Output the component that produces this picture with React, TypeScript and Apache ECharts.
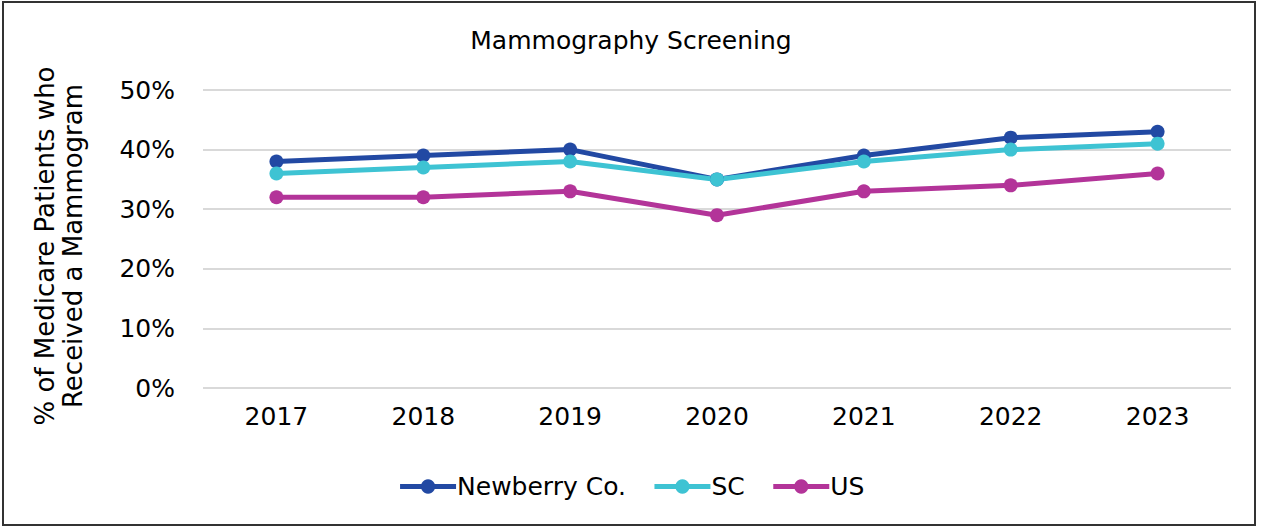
import React, { useEffect, useRef } from "react";
import * as echarts from "echarts";

const years = ["2017", "2018", "2019", "2020", "2021", "2022", "2023"];
const newberry = [38, 39, 40, 35, 39, 42, 43];
const sc = [36, 37, 38, 35, 38, 40, 41];
const us = [32, 32, 33, 29, 33, 34, 36];
const seriesNames = ["Newberry Co.", "SC", "US"];
const colors = ["#2249A3", "#3EC3D3", "#B33499"];

const FONT = "Tahoma, 'DejaVu Sans', sans-serif";

export default function App() {
  const ref = useRef<HTMLDivElement>(null);
  useEffect(() => {
    document.body.style.margin = "0";
    const chart = echarts.init(ref.current!, null, { renderer: "svg" });
    const data = [newberry, sc, us];
    chart.setOption({
      animation: false,
      textStyle: { fontFamily: FONT },
      title: {
        text: "Mammography Screening",
        left: "center",
        top: 23,
        textStyle: { fontFamily: FONT, fontSize: 25, fontWeight: "normal", color: "#000" },
      },
      legend: {
        bottom: 28,
        left: "center",
        itemWidth: 56,
        itemHeight: 18,
        itemGap: 26,
        lineStyle: { width: 5 },
        textStyle: { fontFamily: FONT, fontSize: 25, color: "#000", padding: [0, 0, 0, -4] },
        data: seriesNames,
      },
      grid: { left: 203, right: 31, top: 90, height: 298 },
      xAxis: {
        type: "category",
        data: years,
        axisLine: { show: false },
        axisTick: { show: false },
        axisLabel: { fontFamily: FONT, fontSize: 25, color: "#000", margin: 16 },
      },
      yAxis: {
        type: "value",
        min: 0,
        max: 50,
        interval: 10,
        name: "% of Medicare Patients who\nReceived a Mammogram",
        nameLocation: "middle",
        nameGap: 116,
        nameTextStyle: { fontFamily: FONT, fontSize: 26, color: "#000", lineHeight: 28, padding: [0, 14, 0, 0] },
        axisLabel: { formatter: "{value}%", fontFamily: FONT, fontSize: 25, color: "#000", margin: 28 },
        splitLine: { lineStyle: { color: "#D9D9D9", width: 2 } },
      },
      series: seriesNames.map((n, i) => ({
        name: n,
        type: "line",
        data: data[i],
        symbol: "circle",
        symbolSize: 14,
        lineStyle: { width: 5, color: colors[i] },
        itemStyle: { color: colors[i] },
      })),
    });
    return () => chart.dispose();
  }, []);
  return (
    <div style={{ position: "relative", width: 1262, height: 532, background: "#fff" }}>
      <div
        style={{
          position: "absolute",
          left: 2,
          top: 1,
          width: 1254,
          height: 525,
          border: "2px solid #333",
          boxSizing: "border-box",
          pointerEvents: "none",
          zIndex: 2,
        }}
      />
      <div ref={ref} style={{ position: "absolute", left: 0, top: 0, width: 1262, height: 532 }} />
    </div>
  );
}
